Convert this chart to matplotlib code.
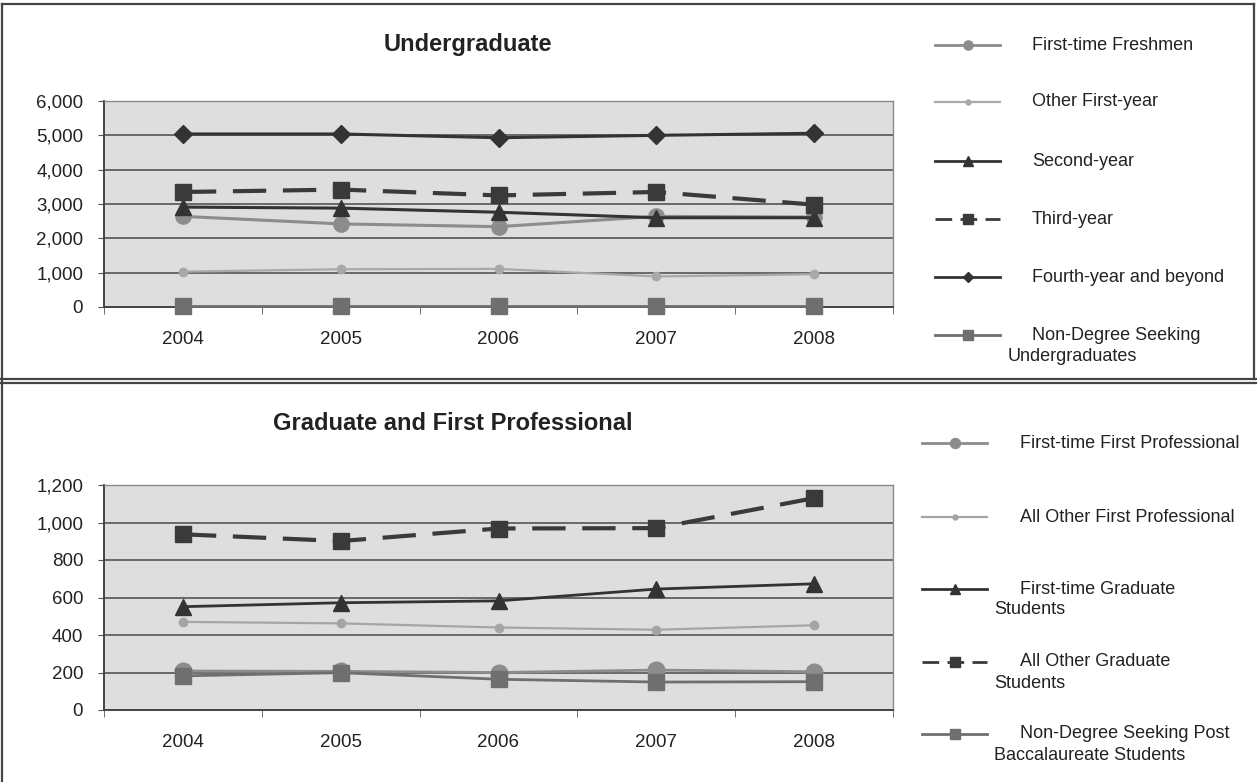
import numpy as np
import matplotlib.pyplot as plt
from matplotlib.lines import Line2D

plt.rcParams['font.family'] = ['Liberation Sans', 'DejaVu Sans']

# Dane
years = ['2004', '2005', '2006', '2007', '2008']

first_time_freshmen = [2640, 2420, 2340, 2640, 2620]
other_first_year = [1030, 1100, 1110, 890, 955]
second_year = [2910, 2880, 2760, 2600, 2600]
third_year = [3350, 3420, 3250, 3350, 2980]
fourth_year = [5040, 5040, 4930, 5000, 5060]
non_degree_ug = [15, 15, 15, 15, 15]

ft_first_prof = [208, 206, 200, 213, 204]
other_first_prof = [470, 462, 440, 428, 452]
ft_graduate = [551, 572, 582, 645, 673]
other_graduate = [937, 901, 968, 970, 1130]
non_degree_post = [182, 199, 164, 149, 151]

ug_labels = ['First-time Freshmen', 'Other First-year', 'Second-year', 'Third-year',
             'Fourth-year and beyond', 'Non-Degree Seeking\nUndergraduates']
gr_labels = ['First-time First Professional', 'All Other First Professional',
             'First-time Graduate\nStudents', 'All Other Graduate\nStudents',
             'Non-Degree Seeking Post\nBaccalaureate Students']

W, H = 1257, 782

# styl serii: (kolor, marker, rozmiar markera, grubosc linii, styl)
ug_styles = [
    ('#8c8c8c', 'o', 11, 2.2, '-'),
    ('#a9a9a9', 'o', 6, 1.6, '-'),
    ('#333333', '^', 11, 2.2, '-'),
    ('#3a3a3a', 's', 11, 3.0, '--'),
    ('#333333', 'D', 9, 2.2, '-'),
    ('#6f6f6f', 's', 11, 2.0, '-'),
]
gr_styles = [
    ('#8c8c8c', 'o', 12, 2.0, '-'),
    ('#a5a5a5', 'o', 6, 1.6, '-'),
    ('#333333', '^', 12, 2.0, '-'),
    ('#3a3a3a', 's', 12, 3.0, '--'),
    ('#6f6f6f', 's', 11, 2.0, '-'),
]


def px(x0, y0, x1, y1):
    # prostokat w pikselach -> wspolrzedne figury
    return [x0 / W, 1 - y1 / H, (x1 - x0) / W, (y1 - y0) / H]


def draw_panel(fig, rect, series, styles, ymax, ystep):
    ax = fig.add_axes(rect)
    ax.set_facecolor('#dedede')
    x = np.arange(len(years))
    for vals, st in zip(series, styles):
        col, mk, ms, lw, ls = st
        line, = ax.plot(x, vals, color=col, marker=mk, markersize=ms, linewidth=lw,
                        linestyle=ls, zorder=3, clip_on=False)
        if ls == '--':
            line.set_dashes((8, 4))
    ax.set_xlim(-0.5, len(years) - 0.5)
    ax.set_ylim(0, ymax)
    ax.set_yticks(np.arange(0, ymax + 1, ystep))
    ax.set_yticklabels(['{:,}'.format(v) for v in np.arange(0, ymax + 1, ystep)])
    ax.set_xticks(x)
    ax.set_xticklabels(years)
    ax.set_xticks(np.arange(-0.5, len(years), 1.0), minor=True)
    ax.tick_params(axis='x', which='major', length=0, pad=17, labelsize=13.5, colors='#222222')
    ax.tick_params(axis='x', which='minor', length=5, color='#555555', direction='out')
    ax.tick_params(axis='y', length=4, pad=11, labelsize=13.5, colors='#222222', color='#555555')
    ax.yaxis.grid(True, color='#555555', linewidth=1.2, zorder=1)
    ax.set_axisbelow(True)
    for s in ['left', 'bottom']:
        ax.spines[s].set_color('#444444')
        ax.spines[s].set_linewidth(1.4)
    for s in ['top', 'right']:
        ax.spines[s].set_color('#8a8a8a')
        ax.spines[s].set_linewidth(1.0)
    return ax


def draw_legend(fig, labels, styles, ys, hx0, hx1, tx, tx2):
    for lab, st, y in zip(labels, styles, ys):
        col, mk, ms, lw, ls = st
        yf = 1 - y / H
        ln = Line2D([hx0 / W, hx1 / W], [yf, yf], color=col, linewidth=min(lw, 2.0),
                    linestyle=ls, transform=fig.transFigure)
        if ls == '--':
            ln.set_dashes((6, 3))
        fig.lines.append(ln)
        mkl = Line2D([(hx0 + hx1) / 2 / W], [yf], color=col, marker=mk,
                     markersize=ms * 0.6, linestyle='none', transform=fig.transFigure)
        fig.lines.append(mkl)
        parts = lab.split('\n')
        fig.text(tx / W, yf, parts[0], fontsize=13, color='#222222', va='center', ha='left')
        if len(parts) > 1:
            fig.text(tx2 / W, 1 - (y + 21) / H, parts[1], fontsize=13, color='#222222',
                     va='center', ha='left')


fig = plt.figure(figsize=(W / 100, H / 100), dpi=100)
fig.patch.set_facecolor('white')

# ramki paneli
frame_col = '#444444'
fig.lines.append(Line2D([2 / W, 1254 / W], [1 - 4 / H, 1 - 4 / H], color=frame_col, lw=1.6,
                        transform=fig.transFigure))
fig.lines.append(Line2D([1254 / W, 1254 / W], [1 - 4 / H, 1 - 379 / H], color=frame_col, lw=1.6,
                        transform=fig.transFigure))
fig.lines.append(Line2D([2 / W, 2 / W], [1 - 4 / H, 0], color=frame_col, lw=1.6,
                        transform=fig.transFigure))
fig.lines.append(Line2D([0, 1], [1 - 379 / H, 1 - 379 / H], color=frame_col, lw=1.6,
                        transform=fig.transFigure))
fig.lines.append(Line2D([0, 1], [1 - 383 / H, 1 - 383 / H], color=frame_col, lw=1.6,
                        transform=fig.transFigure))

# Panel gorny
ug_series = [first_time_freshmen, other_first_year, second_year, third_year,
             fourth_year, non_degree_ug]
draw_panel(fig, px(104, 101, 893, 307), ug_series, ug_styles, 6000, 1000)
fig.text(468 / W, 1 - 45 / H, 'Undergraduate', fontsize=17, fontweight='bold',
         color='#222222', ha='center', va='center')
draw_legend(fig, ug_labels, ug_styles, [45, 102, 161, 219, 277, 335], 935, 1000, 1032, 1008)

# Panel dolny
gr_series = [ft_first_prof, other_first_prof, ft_graduate, other_graduate, non_degree_post]
draw_panel(fig, px(104, 485, 893, 710), gr_series, gr_styles, 1200, 200)
fig.text(453 / W, 1 - 424 / H, 'Graduate and First Professional', fontsize=17,
         fontweight='bold', color='#222222', ha='center', va='center')
draw_legend(fig, gr_labels, gr_styles, [443, 517, 589, 662, 734], 922, 987, 1020, 994)

fig.savefig('out.png', dpi=100, facecolor='white')
